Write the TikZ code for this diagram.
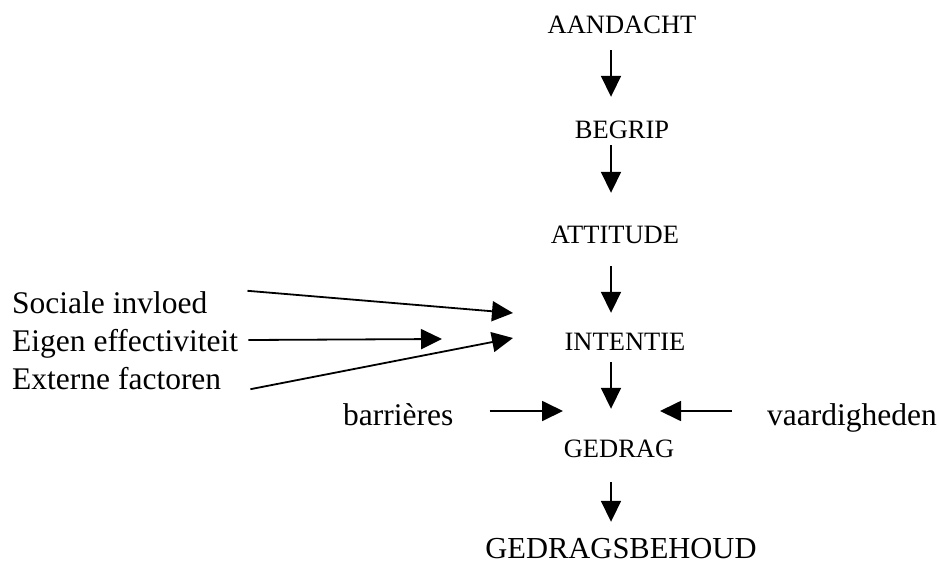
\documentclass[tikz,border=0pt]{standalone}
\usepackage{fontspec}
\setmainfont{Liberation Serif}
\usetikzlibrary{arrows.meta}

\tikzset{
  stap/.style={font=\fontsize{26.5}{32}\selectfont, inner sep=0pt, text height=17.5pt, text depth=0pt},
  factor/.style={font=\fontsize{31.5}{37}\selectfont, inner sep=0pt, text height=22pt, text depth=0pt},
  pijl/.style={line width=1.8pt, -{Triangle[length=21pt,width=20pt]}}
}

\begin{document}
\begin{tikzpicture}[x=1pt,y=-1pt]
\useasboundingbox (0,0) rectangle (939,565);
% stappen van het model
\node [stap, anchor=base] (aandacht) at (622,33) {AANDACHT};
\node [stap, anchor=base] (begrip) at (622,138) {BEGRIP};
\node [stap, anchor=base] (attitude) at (615,243) {ATTITUDE};
\node [stap, anchor=base] (intentie) at (625,350) {INTENTIE};
\node [stap, anchor=base] (gedrag) at (619,457) {GEDRAG};
\node [factor, font=\fontsize{30.5}{36}\selectfont, anchor=base] (behoud) at (621,558) {GEDRAGSBEHOUD};
% factoren
\node [factor, anchor=base west] (sociale) at (12,313) {Sociale invloed};
\node [factor, anchor=base west] (eigen) at (12,351) {Eigen effectiviteit};
\node [factor, anchor=base west] (externe) at (12,389) {Externe factoren};
\node [factor, anchor=base west] (barrieres) at (343,425) {barrières};
\node [factor, anchor=base west] (vaardig) at (767,425) {vaardigheden};
\coordinate (spil) at (611,0);
\coordinate (inS) at (513,313);
\coordinate (inE) at (442,339);
\coordinate (inX) at (513,338);
\coordinate (inB) at (563,411);
\coordinate (inV) at (660,411);
% pijlen
\draw [pijl, shorten <=17pt, shorten >=23.5pt] (aandacht.south -| spil) -- (begrip.north -| spil);
\draw [pijl, shorten <=7pt, shorten >=32.5pt] (begrip.south -| spil) -- (attitude.north -| spil);
\draw [pijl, shorten <=23pt, shorten >=19.5pt] (attitude.south -| spil) -- (intentie.north -| spil);
\draw [pijl, shorten <=12pt, shorten >=30.5pt] (intentie.south -| spil) -- (gedrag.north -| spil);
\draw [pijl, shorten <=25pt, shorten >=14pt] (gedrag.south -| spil) -- (behoud.north -| spil);
\draw [pijl] ([xshift=40pt]sociale.north east) -- (inS);
\draw [pijl] ([xshift=10pt]eigen.east) -- (inE);
\draw [pijl] ([xshift=29pt]externe.south east) -- (inX);
\draw [pijl] (barrieres.east |- inB) ++(36pt,0) -- (inB);
\draw [pijl] (vaardig.west |- inV) ++(-35pt,0) -- (inV);
\end{tikzpicture}
\end{document}
